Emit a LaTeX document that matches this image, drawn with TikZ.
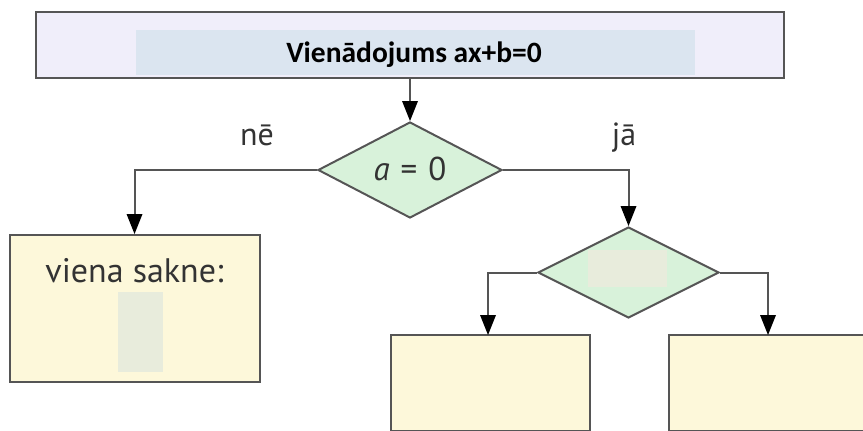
\documentclass[tikz,border=0pt]{standalone}
\usepackage{fontspec}
\setmainfont{PT Sans}
\newfontfamily\headfont{Carlito}
\usetikzlibrary{arrows.meta,shapes.geometric}
\definecolor{edge}{HTML}{555555}
\definecolor{headfill}{HTML}{F0EEFA}
\definecolor{bandfill}{HTML}{DBE5F0}
\definecolor{decfill}{HTML}{D8F2DA}
\definecolor{boxfill}{HTML}{FDF8DA}
\definecolor{slotfill}{HTML}{E8ECDC}
\definecolor{ink}{HTML}{333333}
\tikzset{
  every path/.style={line width=2pt},
  flowbox/.style={draw=edge,fill=boxfill,inner sep=0pt},
  decision/.style={draw=edge,fill=decfill,diamond,inner sep=0pt},
  flow/.style={draw=edge,-{Triangle[length=20pt,width=16pt,fill=black,line width=0pt]}},
  slot/.style={fill=slotfill,draw=none,inner sep=0pt},
  lbl/.style={anchor=base,inner sep=0pt,text=ink}
}
\begin{document}
\begin{tikzpicture}[x=1pt,y=-1pt]
\useasboundingbox (0,0) rectangle (863,431);
% header box with its shaded band
\node[draw=edge,fill=headfill,minimum width=748pt,minimum height=66pt,inner sep=0pt] (head) at (410,45) {};
\node[fill=bandfill,minimum width=559pt,minimum height=45pt,inner sep=0pt] (band) at (415.5,52.5) {};
\node[lbl,text=black,font=\headfont\bfseries\fontsize{29.5}{34}\selectfont] (headt) at (414,62) {Vienādojums ax+b=0};
% first decision
\node[decision,minimum width=184pt,minimum height=96pt] (d1) at (410,170) {};
\node[lbl,font=\fontsize{33}{38}\selectfont] (d1t) at (410,180) {\textit{a}\,\,=\,\,0};
\node[lbl,font=\fontsize{32}{36}\selectfont] (ne) at (257,145) {nē};
\node[lbl,font=\fontsize{32}{36}\selectfont] (ja) at (624,145) {jā};
% left result box
\node[flowbox,minimum width=250pt,minimum height=147pt] (b1) at (134.5,308.5) {};
\node[lbl,font=\fontsize{34}{38}\selectfont] (b1t) at (134.5,282) {viena sakne:};
\node[slot,minimum width=45pt,minimum height=80pt] (s1) at (140.5,332) {};
% second decision
\node[decision,minimum width=181pt,minimum height=91pt] (d2) at (628.5,272.5) {};
\node[slot,minimum width=79pt,minimum height=37pt] (s2) at (627.5,268.5) {};
% bottom result boxes
\node[flowbox,minimum width=199pt,minimum height=96pt] (b2) at (490.5,383) {};
\node[flowbox,minimum width=196pt,minimum height=96pt] (b3) at (767,383) {};
% connectors
\draw[flow] (head.south -| d1.north) -- (d1.north);
\draw[flow] (d1.west) -| (b1.north);
\draw[flow] (d1.east) -| (d2.north);
\coordinate (l2) at (488,335);
\coordinate (r2) at (768,335);
\draw[flow] (d2.west) -| (l2);
\draw[flow] (d2.east) -| (r2);
\end{tikzpicture}
\end{document}
